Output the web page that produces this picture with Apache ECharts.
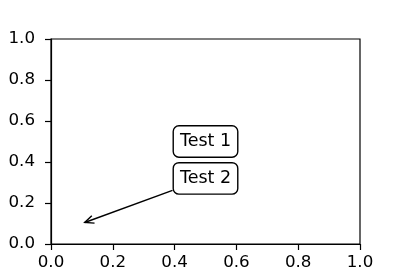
<!DOCTYPE html>
<html>
<head>
<meta charset="utf-8">
<script src="https://cdn.jsdelivr.net/npm/echarts@6/dist/echarts.min.js"></script>
<style>html,body{margin:0;padding:0;background:#fff}#c{width:400px;height:280px}</style>
</head>
<body>
<div id="c"></div>
<script>
const xTicks = [0.0, 0.2, 0.4, 0.6, 0.8, 1.0];
const yTicks = [0.0, 0.2, 0.4, 0.6, 0.8, 1.0];
const annotationLabels = ['Test 1', 'Test 2'];
const annotationX = [0.5, 0.5];
const annotationY = [0.5, 0.32];
const arrowFrom = [0.5, 0.32];
const arrowTo = [0.1, 0.1];

const FONT = 'DejaVu Sans';
const FS = 16.7;

const chart = echarts.init(document.getElementById('c'), null, {renderer: 'canvas'});
const axisCommon = (ticks) => ({
  type: 'value',
  min: ticks[0],
  max: ticks[ticks.length - 1],
  interval: 0.2,
  splitLine: {show: false},
  axisLine: {show: true, lineStyle: {color: '#000', width: 1.2}},
  axisTick: {show: true, inside: false, length: 6, lineStyle: {color: '#000', width: 1.2}},
  axisLabel: {color: '#000', fontFamily: FONT, fontSize: FS, formatter: v => v.toFixed(1)}
});
const xAxis = axisCommon(xTicks); xAxis.axisLabel.margin = 10;
const yAxis = axisCommon(yTicks); yAxis.axisLabel.margin = 16;

chart.setOption({
  animation: false,
  backgroundColor: '#fff',
  grid: {left: 51, right: 40, top: 39, bottom: 36, show: true, borderColor: '#000', borderWidth: 1.2, containLabel: false},
  xAxis: xAxis,
  yAxis: yAxis,
  series: [
    {
      type: 'custom',
      z: 2,
      data: [[arrowFrom[0], arrowFrom[1], arrowTo[0], arrowTo[1]]],
      encode: {x: [0, 2], y: [1, 3]},
      renderItem: function (params, api) {
        const s = api.coord([api.value(0), api.value(1)]);
        const t = api.coord([api.value(2), api.value(3)]);
        const dx = t[0] - s[0], dy = t[1] - s[1];
        const len = Math.sqrt(dx * dx + dy * dy);
        const ux = dx / len, uy = dy / len;
        const hw = 33, hh = 15;
        const k = Math.min(hw / Math.abs(dx), hh / Math.abs(dy));
        const start = [s[0] + k * dx, s[1] + k * dy];
        const end = [t[0] - 3 * ux, t[1] - 3 * uy];
        const hl = 9, hwid = 4;
        const nx = -uy, ny = ux;
        const a1 = [end[0] - ux * hl + nx * hwid, end[1] - uy * hl + ny * hwid];
        const a2 = [end[0] - ux * hl - nx * hwid, end[1] - uy * hl - ny * hwid];
        const st = {stroke: '#000', lineWidth: 1.4, fill: null};
        return {
          type: 'group',
          children: [
            {type: 'polyline', shape: {points: [start, end]}, style: st},
            {type: 'polyline', shape: {points: [a1, end, a2]}, style: st}
          ]
        };
      }
    },
    {
      type: 'scatter',
      z: 5,
      symbolSize: 0,
      itemStyle: {opacity: 1},
      data: annotationLabels.map((n, i) => ({name: n, value: [annotationX[i], annotationY[i]]})),
      label: {
        show: true,
        position: 'inside',
        formatter: '{b}',
        color: '#000',
        opacity: 1,
        fontFamily: FONT,
        fontSize: 17.5,
        lineHeight: 20,
        backgroundColor: '#fff',
        borderColor: '#000',
        borderWidth: 1.4,
        borderRadius: 5,
        padding: [5, 6]
      },
      emphasis: {disabled: true}
    }
  ]
});
</script>
</body>
</html>
